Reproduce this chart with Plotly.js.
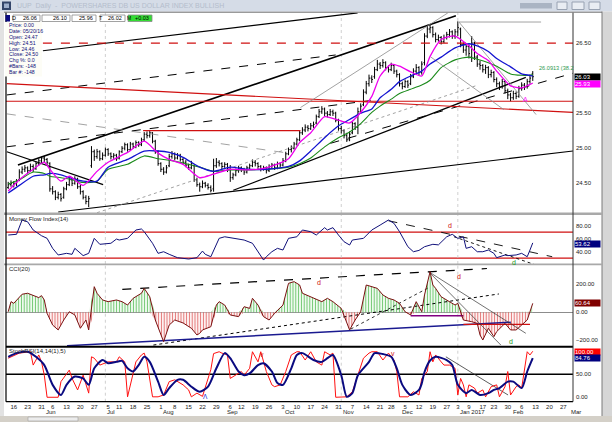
<!DOCTYPE html>
<html><head><meta charset="utf-8">
<script src="https://cdn.plot.ly/plotly-3.0.1.min.js"></script>
<style>html,body{margin:0;padding:0;background:#fff}#chart{width:612px;height:422px}</style>
</head><body><div id="chart"></div>
<script>
// ================= DATA =================
// bar position of the first bar (12 May 2016); bars are trading-day indices (16 May 2016 = 0)
const firstBarIndex = -2;
const barOpen = [24.44,24.48,
24.47,24.50,24.55,24.66,24.70,24.72,24.68,24.74,24.71,24.78,
24.82,24.86,24.84,24.78,24.42,24.38,24.30,24.34,24.30,24.42,
24.48,24.55,24.50,24.56,24.45,24.38,24.30,24.24,24.75,24.95,
24.88,24.95,24.85,24.90,24.98,24.92,24.88,24.90,24.86,24.95,
25.00,25.05,24.98,25.06,25.02,25.08,25.05,25.12,25.20,25.18,
25.22,25.10,24.95,24.78,24.70,24.66,24.75,24.88,24.92,24.86,
24.90,24.84,24.80,24.76,24.72,24.75,24.55,24.48,24.45,24.50,
24.47,24.44,24.42,24.75,24.80,24.78,24.74,24.77,24.70,24.58,
24.62,24.68,24.72,24.70,24.66,24.72,24.75,24.80,24.78,24.74,
24.70,24.72,24.68,24.74,24.76,24.72,24.78,24.76,24.82,24.92,
24.98,25.00,25.06,25.12,25.22,25.26,25.30,25.28,25.32,25.36,
25.45,25.52,25.56,25.50,25.48,25.52,25.50,25.40,25.28,25.25,
25.18,25.12,25.22,25.35,25.30,25.52,25.62,25.80,25.92,26.00,
26.02,26.12,26.20,26.18,26.22,26.15,26.12,26.18,26.10,26.05,
25.92,25.88,25.95,25.92,26.02,26.10,26.15,26.08,26.22,26.60,
26.70,26.72,26.62,26.55,26.58,26.52,26.58,26.62,26.66,26.60,
26.66,26.70,26.48,26.40,26.45,26.30,26.50,26.30,26.20,26.18,
26.12,26.15,26.05,26.08,25.98,25.92,25.88,25.95,25.82,25.76,
25.72,25.78,25.74,25.85,25.90,25.88,25.95,26.06];
const barHigh = [24.52,24.54,
24.53,24.56,24.70,24.74,24.76,24.74,24.78,24.77,24.81,24.85,
24.88,24.89,24.86,24.80,24.46,24.40,24.38,24.36,24.45,24.52,
24.58,24.58,24.60,24.58,24.48,24.40,24.33,24.32,25.03,24.98,
24.99,24.97,24.94,25.01,25.00,24.94,24.93,24.92,24.97,25.03,
25.08,25.07,25.09,25.08,25.11,25.10,25.15,25.23,25.24,25.25,
25.23,25.12,24.97,24.80,24.73,24.76,24.92,24.96,24.94,24.93,
24.92,24.86,24.83,24.78,24.82,24.77,24.58,24.51,24.54,24.52,
24.50,24.47,24.85,24.86,24.83,24.80,24.80,24.79,24.76,24.65,
24.71,24.75,24.74,24.72,24.75,24.78,24.84,24.83,24.80,24.76,
24.75,24.74,24.77,24.79,24.78,24.81,24.80,24.86,24.95,25.01,
25.04,25.09,25.15,25.25,25.30,25.34,25.33,25.36,25.38,25.48,
25.56,25.60,25.58,25.53,25.56,25.55,25.52,25.42,25.32,25.27,
25.22,25.24,25.38,25.37,25.58,25.64,25.84,25.96,26.05,26.04,
26.16,26.26,26.23,26.27,26.24,26.18,26.22,26.20,26.12,26.07,
25.95,25.98,25.97,26.06,26.14,26.20,26.17,26.24,26.64,26.76,
26.77,26.74,26.65,26.62,26.60,26.62,26.66,26.70,26.68,26.70,
26.81,26.72,26.51,26.50,26.48,26.60,26.52,26.33,26.25,26.20,
26.19,26.17,26.12,26.10,26.01,25.95,25.99,25.97,25.85,25.79,
25.82,25.81,25.89,25.94,25.93,25.99,26.05,26.10];
const barLow = [24.42,24.45,
24.44,24.46,24.53,24.63,24.66,24.63,24.66,24.66,24.69,24.75,
24.79,24.80,24.76,24.38,24.34,24.26,24.27,24.24,24.28,24.40,
24.46,24.46,24.48,24.42,24.34,24.27,24.20,24.16,24.72,24.82,
24.85,24.82,24.83,24.88,24.89,24.84,24.85,24.82,24.84,24.93,
24.97,24.95,24.96,24.99,25.00,25.02,25.03,25.10,25.14,25.15,
25.07,24.92,24.75,24.66,24.62,24.64,24.73,24.85,24.83,24.84,
24.81,24.77,24.73,24.69,24.70,24.52,24.45,24.38,24.43,24.44,
24.41,24.37,24.38,24.72,24.74,24.70,24.72,24.66,24.52,24.55,
24.60,24.65,24.66,24.62,24.64,24.70,24.73,24.74,24.70,24.67,
24.68,24.64,24.66,24.71,24.69,24.70,24.72,24.74,24.80,24.90,
24.94,24.98,25.04,25.10,25.19,25.23,25.24,25.26,25.29,25.34,
25.43,25.49,25.46,25.44,25.46,25.46,25.37,25.25,25.21,25.14,
25.09,25.10,25.20,25.26,25.20,25.49,25.60,25.77,25.88,25.93,
25.99,26.10,26.13,26.15,26.11,26.08,26.10,26.06,26.01,25.88,
25.84,25.86,25.86,25.90,26.00,26.07,26.04,26.05,26.18,26.57,
26.64,26.58,26.51,26.52,26.48,26.50,26.55,26.58,26.56,26.56,
26.60,26.44,26.36,26.32,26.28,26.23,26.26,26.16,26.12,26.08,
26.06,26.00,26.01,25.94,25.87,25.83,25.85,25.78,25.70,25.67,
25.69,25.70,25.72,25.82,25.83,25.85,25.92,25.96];
const barClose = [24.48,24.50,
24.50,24.52,24.66,24.70,24.72,24.68,24.74,24.70,24.78,24.82,
24.86,24.84,24.80,24.42,24.38,24.30,24.34,24.28,24.42,24.48,
24.55,24.50,24.56,24.45,24.38,24.30,24.24,24.28,24.95,24.88,
24.95,24.85,24.90,24.98,24.92,24.88,24.90,24.85,24.95,25.00,
25.05,24.98,25.06,25.02,25.08,25.05,25.12,25.20,25.18,25.22,
25.10,24.95,24.78,24.70,24.66,24.72,24.88,24.92,24.86,24.90,
24.84,24.80,24.76,24.72,24.78,24.55,24.48,24.45,24.50,24.47,
24.44,24.40,24.75,24.80,24.78,24.74,24.77,24.70,24.58,24.62,
24.68,24.72,24.70,24.66,24.72,24.75,24.80,24.78,24.74,24.70,
24.72,24.68,24.74,24.76,24.72,24.78,24.76,24.82,24.92,24.98,
25.00,25.06,25.12,25.22,25.26,25.30,25.28,25.32,25.34,25.45,
25.52,25.56,25.50,25.48,25.52,25.50,25.40,25.28,25.25,25.18,
25.12,25.20,25.35,25.30,25.52,25.60,25.80,25.92,26.00,25.98,
26.12,26.20,26.18,26.22,26.15,26.12,26.18,26.10,26.05,25.92,
25.88,25.95,25.90,26.02,26.10,26.15,26.08,26.20,26.60,26.70,
26.72,26.62,26.55,26.58,26.52,26.58,26.62,26.66,26.60,26.66,
26.72,26.48,26.40,26.45,26.35,26.50,26.30,26.20,26.18,26.12,
26.15,26.05,26.08,25.98,25.92,25.88,25.95,25.82,25.76,25.72,
25.78,25.74,25.85,25.90,25.88,25.95,26.00,26.02];

// moving averages (bar index, value)
const maIdx = [-2,2,7,11,13,17,20,25,30,34,41,47,52,56,61,67,72,78,84,91,99,103,107,112,117,121,125,129,132,136,139,143,147,150,154,159,164,167,171,174,179,183,186,187];
const maFast = [24.39,24.55,24.70,24.80,24.70,24.53,24.60,24.47,24.67,24.80,24.94,25.10,24.93,24.84,24.77,24.58,24.63,24.70,24.69,24.72,24.85,25.08,25.22,25.45,25.40,25.36,25.51,25.74,26.03,26.20,26.17,26.09,26.03,26.31,26.55,26.60,26.46,26.35,26.25,26.10,25.89,25.86,25.91,25.93];
const maMid = [24.36,24.47,24.60,24.62,24.64,24.62,24.58,24.53,24.53,24.73,24.84,24.96,24.96,24.94,24.87,24.73,24.67,24.73,24.70,24.70,24.74,24.82,24.96,25.15,25.32,25.41,25.50,25.56,25.72,25.84,25.95,26.03,26.10,26.20,26.30,26.43,26.49,26.46,26.38,26.28,26.16,26.06,26.04,26.03];
const maSlow = [24.49,24.55,24.66,24.64,24.60,24.58,24.56,24.51,24.53,24.70,24.77,24.89,24.85,24.83,24.79,24.73,24.67,24.69,24.69,24.70,24.73,24.78,24.86,25.02,25.15,25.23,25.35,25.51,25.60,25.70,25.78,25.84,25.90,25.97,26.15,26.26,26.30,26.27,26.22,26.17,26.06,26.04,26.04,26.05];

// Money Flow Index(14)
const mfiIdx = [-2,1,3,5,7,10,12,14,16,19,21,22,25,27,29,31,35,37,38,41,44,46,47,50,52,54,56,59,63,66,68,69,71,73,74,76,79,83,86,88,90,91,93,95,97,99,102,104,107,109,112,113,115,117,119,121,122,126,129,132,135,137,139,142,144,146,148,151,153,156,158,160,162,163,165,167,169,171,173,174,177,178,181,183,185,186,187];
const mfiVal = [65.7,66.8,88.8,86,73.4,64.6,60.6,45.2,35,37.5,36,45.2,34,37.5,60.6,51.4,53,59.5,58,60.6,73.4,75,70.8,53,37.5,40,36,30.8,28.8,30.8,41,36,32.3,50,60.6,63,60.6,58,53,40,27.2,32.3,40,45.2,42.6,60.6,63,73.4,70.8,65.7,77,73.4,77,65.7,55.4,50.3,58,60.6,73.4,81,88.8,83.7,70.8,47.7,40,42,47.7,51.4,50.5,63,66.8,60.6,63,45.2,47.7,40,40,42.6,37.5,30.8,35,34,35,37.5,32.3,42.6,53.6];
const mfiLevels = [30, 70];

// CCI(20)
const cciIdx = [-2,-1,0,3,5,7,9,10,11,12,14,16,18,20,22,24,26,27,29,30,32,34,37,39,41,43,46,47,49,51,53,54,56,58,61,64,66,67,68,71,73,74,76,78,81,83,85,86,88,90,92,94,97,99,101,103,104,107,111,113,115,118,120,121,123,125,127,129,131,133,135,137,139,141,143,145,147,148,150,151,152,154,156,159,160,162,165,167,168,169,171,173,174,177,179,181,183,185,186,187];
const cciVal = [4,76,64,129,136,119,105,119,88,-7,-91,-126,-55,4,-19,-114,-55,-126,183,136,88,76,88,76,52,100,136,171,111,-55,-162,-210,-91,-55,-76,-114,-162,-150,-126,-103,52,76,52,-19,-31,40,28,100,52,-31,-55,-7,52,207,219,195,136,111,76,100,76,28,-67,-126,-55,4,195,183,171,124,100,88,64,4,-19,76,4,124,290,195,171,111,88,52,64,-55,-67,-79,-162,-198,-114,-174,-138,-79,-126,-126,-91,-55,4,64];

// Stochastic %K (red) and %D (blue)
const stochKIdx = [-2,2,6,7,9,10,11,12,16,17,20,21,23,25,27,28,29,31,34,37,38,40,41,43,44,46,47,48,50,52,54,56,58,61,63,64,66,68,69,71,72,74,75,77,78,80,82,83,85,86,88,89,90,91,93,94,96,98,100,102,103,105,107,109,111,112,114,115,116,118,120,122,124,126,128,129,131,133,135,137,138,139,142,144,146,147,149,150,151,152,154,155,157,159,160,161,162,163,164,166,167,169,170,172,174,175,177,178,179,181,182,183,185,186,187];
const stochK = [85,96,99,70,92,77,48,0,0,34,59,41,16,48,9,88,85,70,77,77,88,77,1,56,77,92,96,77,1,1,5,34,38,27,16,1,9,2,22,60,95,99,96,92,41,48,56,48,63,99,77,99,77,56,27,23,27,56,92,99,99,81,99,77,70,99,92,96,0,1,1,12,48,85,96,99,99,81,96,81,56,1,1,12,5,41,56,99,77,92,77,70,70,63,5,41,27,1,27,20,9,16,1,23,27,1,23,56,5,23,27,20,99,92,100];
const stochDIdx = [-2,1,5,8,11,14,17,19,22,25,27,29,32,34,37,39,41,43,45,47,49,52,54,56,59,61,64,67,70,73,76,78,81,83,85,88,90,93,95,97,100,102,104,108,111,113,115,118,120,122,124,128,130,133,136,138,140,143,146,147,148,150,152,156,158,160,163,165,168,171,173,175,178,180,183,185,187];
const stochD = [88,96,99,88,70,27,5,27,45,41,27,63,81,74,77,79,63,56,70,88,77,34,5,20,38,38,23,12,23,63,96,85,56,48,52,70,74,56,31,27,63,92,96,81,77,85,92,48,1,9,48,77,96,94,88,63,27,5,16,30,55,80,88,81,70,27,9,16,5,9,16,20,34,34,20,56,85];
const stochMid = 50;

// analyst lines drawn on the panels: start (bar index, value) -> end (bar index, value)
const priceLineX0 = [10.5,1.5,-2.5,16.0,79.1,114.1,-2.5,-2.5,-2.5,-2.8,10.5,46.6,-2.5,160.4,150.3,103.3,160.4,30.0];
const priceLineY0 = [26.39,24.76,24.95,24.09,24.40,25.07,25.76,25.02,25.92,25.67,26.50,25.25,25.49,26.80,26.30,25.58,26.80,24.08];
const priceLineX1 = [123.9,159.3,32.2,201.5,184.5,201.5,116.0,128.6,201.5,201.5,201.5,103.3,97.2,188.2,176.6,156.4,190.0,167.2];
const priceLineY1 = [26.93,26.89,24.48,24.96,26.01,26.07,26.33,25.68,25.51,25.67,26.50,25.25,24.94,25.48,25.55,26.93,26.80,25.90];
const mfiLineX0 = [135,158.6], mfiLineY0 = [87.7,63.1], mfiLineX1 = [194,187.4], mfiLineY1 = [32.3,20.6];
const cciLineX0 = [39.1,50.3,121.4,19.2,143,162,149.5,149.5];
const cciLineY0 = [164,-234,-120,-239,-24,-86,290,290];
const cciLineX1 = [170.5,174.8,149.2,179.1,162,186,184.5,175.5];
const cciLineY1 = [313,131,173,-71,-24,-86,-150,-234];
const stochLineX0 = [155.7], stochLineY0 = [88], stochLineX1 = [178.1], stochLineY1 = [5];

// x-axis ticks (first trading day of each week) and month starts
const tickIdx = [0,5,10,14,19,24,29,34,38,43,48,53,58,63,68,73,78,82,87,92,97,102,107,112,117,122,127,132,136,141,146,151,156,160,164,169,173,178,183,188,193,198];
const tickText = ['16','23','31','6','13','20','27','5','11','18','25','1','8','15','22','29','6','12','19','26','3','10','17','24','31','7','14','21','28','5','12','19','27','3','9','17','23','30','6','13','20','27'];
const monthNames = ['Jun','Jul','Aug','Sep','Oct','Nov','Dec','Jan 2017','Feb','Mar'];
const monthStartIdx = [11,33,53,76,97,118,139,160,179,200];
const gridIdx = [33,118,160];

// right-scale tick values (the ones not hidden behind the last-value boxes)
const priceTicks = [24.5, 25, 25.5, 26.5];
const mfiTicks = [40, 60, 80];
const cciTicks = [-200, 0, 200];
const stochTicks = [0, 50];

// header / readouts
const quoteValues = ['26.06','26.10','25.96','26.02','+0.03'];
const infoLines = ['Price: 0.00','Date: 05/20/16','Open: 24.47','High: 24.51','Low: 24.46','Close: 24.50','Chg %: 0.0','#Bars: -148','Bar #: -148'];
const lastValues = {close:'26.03', maFast:'25.93', mfi:'53.62', cci:'60.64', stochK:'100.00', stochD:'84.76'};

// ================= DRAWING =================
const W = 612, H = 422;
const px = v => v / W;
const py = v => 1 - v / H;
const FONT = 'Liberation Sans, Arial, sans-serif';
const XR = [-2.8, 201.5];
const XD = [px(6), px(573)];

const barX = barOpen.map((_, k) => firstBarIndex + k);
const traces = [];
function lineSet(x0, y0, x1, y1, ax, styles) {
  x0.forEach((_, k) => {
    const s = styles[k] || styles[0];
    traces.push({type:'scatter', mode:'lines', x:[x0[k], x1[k]], y:[y0[k], y1[k]], xaxis:ax[0], yaxis:ax[1],
      line:{color:s.c, width:s.w, dash:s.d || 'solid'}, hoverinfo:'skip', showlegend:false});
  });
}
const K = {c:'#000', w:1.2}, KT = {c:'#000', w:1.6}, KD = {c:'#000', w:1, d:'dash'};
const R = {c:'#d01010', w:1.2}, RD = {c:'#d01010', w:1.2, d:'dash'};
const G = {c:'#8a8a8a', w:0.8}, GD = {c:'#8a8a8a', w:0.8, d:'dash'}, GT = {c:'#8a8a8a', w:0.8, d:'dot'};
lineSet(priceLineX0, priceLineY0, priceLineX1, priceLineY1, ['x','y'],
  [K, KT, K, K, K, KD, KD, KD, R, R, RD, R, GD, G, G, G, G, GT]);

traces.push({type:'ohlc', x:barX, open:barOpen, high:barHigh, low:barLow, close:barClose, xaxis:'x', yaxis:'y',
  increasing:{line:{color:'#000', width:1}}, decreasing:{line:{color:'#000', width:1}}, tickwidth:0.4,
  hoverinfo:'skip', showlegend:false});
traces.push({type:'scatter', mode:'lines', x:maIdx, y:maSlow, xaxis:'x', yaxis:'y', line:{color:'#1a8a1a', width:1.1, shape:'spline', smoothing:0.6}, hoverinfo:'skip', showlegend:false});
traces.push({type:'scatter', mode:'lines', x:maIdx, y:maMid, xaxis:'x', yaxis:'y', line:{color:'#1414d0', width:1.3, shape:'spline', smoothing:0.6}, hoverinfo:'skip', showlegend:false});
traces.push({type:'scatter', mode:'lines', x:maIdx, y:maFast, xaxis:'x', yaxis:'y', line:{color:'#ee00ee', width:1.3, shape:'spline', smoothing:0.6}, hoverinfo:'skip', showlegend:false});

// MFI
lineSet(mfiLineX0, mfiLineY0, mfiLineX1, mfiLineY1, ['x2','y2'], [{c:'#000', w:0.9, d:'dash'}, {c:'#000', w:0.9, d:'dot'}]);
traces.push({type:'scatter', mode:'lines', x:mfiIdx, y:mfiVal, xaxis:'x2', yaxis:'y2', line:{color:'#10107a', width:1}, hoverinfo:'skip', showlegend:false});

// CCI
traces.push({type:'scatter', mode:'lines', x:cciIdx, y:cciVal.map(v => Math.max(v, 0)), xaxis:'x3', yaxis:'y3', fill:'tozeroy',
  fillcolor:'rgba(0,0,0,0)', fillpattern:{shape:'|', fgcolor:'#5cbf5c', bgcolor:'rgba(230,247,230,0.6)', size:2.8, solidity:0.3},
  line:{width:0}, hoverinfo:'skip', showlegend:false});
traces.push({type:'scatter', mode:'lines', x:cciIdx, y:cciVal.map(v => Math.min(v, 0)), xaxis:'x3', yaxis:'y3', fill:'tozeroy',
  fillcolor:'rgba(0,0,0,0)', fillpattern:{shape:'|', fgcolor:'#e06464', bgcolor:'rgba(252,232,232,0.6)', size:2.8, solidity:0.3},
  line:{width:0}, hoverinfo:'skip', showlegend:false});
lineSet(cciLineX0, cciLineY0, cciLineX1, cciLineY1, ['x3','y3'],
  [{c:'#000', w:1.2, d:'dash'}, {c:'#000', w:1, d:'dot'}, {c:'#000', w:0.8, d:'dot'}, {c:'#1a1a90', w:1.5},
   {c:'#800080', w:1.5}, {c:'#d01010', w:1.2}, {c:'#333', w:0.7}, {c:'#333', w:0.7}]);
traces.push({type:'scatter', mode:'lines', x:cciIdx, y:cciVal, xaxis:'x3', yaxis:'y3', line:{color:'#7a1010', width:1}, hoverinfo:'skip', showlegend:false});

// Stochastic
lineSet(stochLineX0, stochLineY0, stochLineX1, stochLineY1, ['x4','y4'], [{c:'#333', w:0.8}]);
traces.push({type:'scatter', mode:'lines', x:stochKIdx, y:stochK, xaxis:'x4', yaxis:'y4', line:{color:'#ff1010', width:1}, hoverinfo:'skip', showlegend:false});
traces.push({type:'scatter', mode:'lines', x:stochDIdx, y:stochD, xaxis:'x4', yaxis:'y4', line:{color:'#0a0a80', width:2, shape:'spline', smoothing:0.7}, hoverinfo:'skip', showlegend:false});

// ---------- layout ----------
const tickFont = {family:FONT, size:6, color:'#222'};
function xax(showLabels) {
  return {domain:XD, range:XR, showgrid:false, zeroline:false, showline:false, ticks:'',
    tickvals:tickIdx, ticktext:tickText, showticklabels:showLabels, tickfont:tickFont, fixedrange:true};
}
function yax(dom, range, vals, extra) {
  return Object.assign({domain:dom, range:range, side:'right', showgrid:false, zeroline:false, showline:false, ticks:'',
    tickvals:vals, tickformat:'.2f', tickfont:tickFont, fixedrange:true, ticklabelstandoff:2}, extra || {});
}
const layout = {
  width:W, height:H, autosize:false, margin:{l:0, r:0, t:0, b:0},
  paper_bgcolor:'#ffffff', plot_bgcolor:'#ffffff', showlegend:false, font:{family:FONT},
  xaxis: Object.assign(xax(false), {anchor:'y', rangeslider:{visible:false}}),
  xaxis2: Object.assign(xax(false), {anchor:'y2', matches:'x'}),
  xaxis3: Object.assign(xax(false), {anchor:'y3', matches:'x'}),
  xaxis4: Object.assign(xax(true), {anchor:'y4', matches:'x'}),
  yaxis: yax([py(213), py(12.7)], [24.076, 26.933], priceTicks, {anchor:'x'}),
  yaxis2: yax([py(264), py(215)], [21.1, 96.5], mfiTicks, {anchor:'x2'}),
  yaxis3: yax([py(346.7), py(265)], [-245.7, 337.9], cciTicks, {anchor:'x3', zeroline:true, zerolinecolor:'#8c8c8c', zerolinewidth:1}),
  yaxis4: yax([py(401.7), py(347)], [-9.6, 109.3], stochTicks, {anchor:'x4'}),
  shapes: [], annotations: []
};
const S = layout.shapes, A = layout.annotations;
function rectPx(x0, y0, x1, y1, fill, line, layer) {
  S.push({type:'rect', xref:'paper', yref:'paper', x0:px(x0), x1:px(x1), y0:py(y1), y1:py(y0),
    fillcolor:fill, line:line || {width:0}, layer:layer || 'below'});
}
function linePx(x0, y0, x1, y1, color, width) {
  S.push({type:'line', xref:'paper', yref:'paper', x0:px(x0), x1:px(x1), y0:py(y0), y1:py(y1), line:{color:color, width:width}, layer:'above'});
}
// window frame
rectPx(0, 0, 612, 11.5, '#d5dce7');
rectPx(2, 1.5, 11, 10, '#34466a');
rectPx(4, 3.5, 9, 8, '#9fb0cc');
rectPx(520, 3, 552, 8.5, '#aab4c3');
[[557,567],[572,584],[589,600]].forEach(b => rectPx(b[0], 2, b[1], 9.5, '#e9edf3', {color:'#98a2b2', width:1}));
rectPx(0, 11.5, 4, 422, '#e2e2e2');
rectPx(602, 11.5, 612, 422, '#d6d6d6');
rectPx(0, 416, 612, 422, '#d4d0c8');
rectPx(28, 417, 78, 421, '#ececec', {color:'#a0a0a0', width:0.6});
linePx(602, 11.5, 602, 416, '#7a7a7a', 1);
// panel separators and borders
rectPx(4, 212.5, 602, 215, '#a9a9a9', null, 'above');
rectPx(4, 263.5, 602, 265.2, '#a9a9a9', null, 'above');
linePx(6, 346.8, 573, 346.8, '#000', 2);
linePx(6, 401.7, 573, 401.7, '#000', 1.2);
linePx(6, 12.5, 6, 401.7, '#000', 1.2);
linePx(573, 12.5, 573, 401.7, '#333', 1);
linePx(4, 12.2, 602, 12.2, '#6d6d6d', 1);
// MFI levels and stochastic mid line
mfiLevels.forEach(v => S.push({type:'line', xref:'paper', yref:'y2', x0:px(6), x1:px(573), y0:v, y1:v, line:{color:'#d01010', width:1.2}, layer:'below'}));
S.push({type:'line', xref:'paper', yref:'y4', x0:px(6), x1:px(573), y0:stochMid, y1:stochMid, line:{color:'#000', width:1.4}, layer:'below'});
// vertical grid lines
gridIdx.forEach(g => ['y','y2','y3','y4'].forEach(ya => S.push({type:'line', xref:'x', yref:ya + ' domain', x0:g, x1:g, y0:0, y1:1, line:{color:'#c4c4c4', width:0.8, dash:'dot'}, layer:'below'})));
// info box
rectPx(5, 22, 42, 76.5, '#fdfdf6', null, 'above');

function txt(x, y, text, opts) {
  A.push(Object.assign({xref:'paper', yref:'paper', x:px(x), y:py(y), text:text, showarrow:false, xanchor:'left', yanchor:'middle',
    font:{family:FONT, size:6, color:'#222'}}, opts || {}));
}
// title bar text
txt(15, 6, 'UUP  Daily  -  POWERSHARES DB US DOLLAR INDEX BULLISH', {font:{family:FONT, size:7, color:'#b4bdcc'}});
// quote toolbar
rectPx(5.5, 15, 10, 21.5, '#0a0a80', null, 'above');
txt(10, 18.3, 'D', {font:{family:FONT, size:5.5, color:'#000'}});
const qBoxes = [[13,40],[42,70],[72,96],[100,125],[128,152]];
qBoxes.forEach((b, k) => {
  rectPx(b[0], 15, b[1], 21.5, k === 4 ? '#33dd33' : '#ffffff', {color:'#8a8a8a', width:0.8}, 'above');
  txt(b[1] - 1, 18.3, quoteValues[k], {xanchor:'right', font:{family:FONT, size:5.5, color:'#000'}});
});
txt(96.5, 18.3, 'T', {font:{family:FONT, size:5.5, color:'#000'}});
txt(124.5, 18.3, 'M', {font:{family:FONT, size:5, color:'#000'}});
// info readout
infoLines.forEach((t, k) => txt(6.5, 25.2 + k * 5.85, t, {font:{family:FONT, size:5.2, color:'#10107a'}}));
// panel titles
txt(7, 218.5, 'Money Flow Index(14)', {font:{family:FONT, size:6, color:'#222'}});
txt(7, 269, 'CCI(20)', {font:{family:FONT, size:6, color:'#222'}});
txt(7, 350.5, 'StochRSI(14,14(1),5)', {font:{family:FONT, size:6, color:'#222'}});
// month labels
monthNames.forEach((m, k) => A.push({xref:'x4', yref:'paper', x:monthStartIdx[k], y:py(411.5), text:m, showarrow:false,
  xanchor:'left', yanchor:'middle', font:{family:FONT, size:6, color:'#222'}}));
// last-value boxes on the right scale
function vbox(y, text, bg) {
  A.push({xref:'paper', yref:'paper', x:px(574), y:py(y), text:text, showarrow:false, xanchor:'left', yanchor:'middle',
    width:25, height:5.5, align:'left', bgcolor:bg, borderpad:0, font:{family:FONT, size:6, color:'#fff'}});
}
vbox(77, lastValues.close, '#000000');
vbox(84.2, lastValues.maFast, '#ff00ff');
vbox(244, lastValues.mfi, '#00007f');
vbox(303.2, lastValues.cci, '#7f0000');
vbox(351.7, lastValues.stochK, '#ff0000');
vbox(357.9, lastValues.stochD, '#00007f');
// chart notes
function note(xa, ya, x, y, text, color, size, anchor) {
  A.push({xref:xa, yref:ya, x:x, y:y, text:text, showarrow:false, xanchor:anchor || 'center', yanchor:'middle',
    font:{family:FONT, size:size || 7, color:color}});
}
note('x', 'y', 188.5, 26.15, '26.0913 (38.2', '#2e9a4e', 5.6, 'left');
note('x', 'y', 184.5, 25.69, 'A', '#ff22ff', 7);
note('x2', 'y2', 157.1, 81, 'd', '#d01010', 7);
note('x2', 'y2', 180.2, 23, 'd', '#1a9a1a', 7);
note('x3', 'y3', 109.8, 214, 'd', '#d01010', 7);
note('x3', 'y3', 160.4, 259, 'd', '#d01010', 7);
note('x3', 'y3', 179.1, -210, 'd', '#1a9a1a', 7);
note('x4', 'y4', 89.6, 92, 'v', '#d01010', 7);
note('x4', 'y4', 136.5, 96, 'v', '#d01010', 7);
note('x4', 'y4', 69, 2, '\u039b', '#1020d0', 6.5);

Plotly.newPlot('chart', traces, layout, {staticPlot:true, displayModeBar:false});
</script>
</body></html>
